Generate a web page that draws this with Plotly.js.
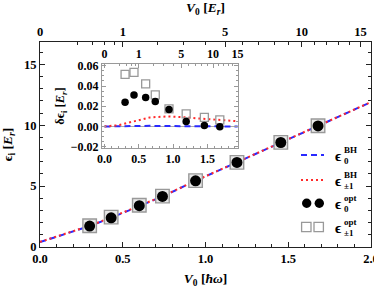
<!DOCTYPE html>
<html><head><meta charset="utf-8">
<script src="https://cdn.plot.ly/plotly-3.0.1.min.js"></script>
<style>html,body{margin:0;padding:0;background:#fff}</style>
</head><body><div id="chart" style="width:374px;height:288px"></div>
<script>
// ---- data ----
const V0_hw      = [0.30, 0.43, 0.60, 0.74, 0.94, 1.19, 1.455, 1.68];
const eps0Opt    = [1.72, 2.40, 3.39, 4.15, 5.43, 6.94, 8.58, 9.94];
const epsPm1Opt  = [1.75, 2.45, 3.43, 4.18, 5.45, 6.95, 8.59, 9.95];
const bhX        = [0, 0.30, 0.43, 0.60, 0.74, 0.94, 1.19, 1.455, 1.68, 2.0];
const eps0BH     = [0.40, 1.72, 2.40, 3.39, 4.15, 5.43, 6.94, 8.58, 9.94, 11.9];
const epsPm1BH   = [0.42, 1.74, 2.43, 3.42, 4.17, 5.44, 6.95, 8.59, 9.95, 11.9];
const dEps0Opt   = [0.0240, 0.0312, 0.0286, 0.0246, 0.0167, 0.0049, 0.0010, -0.0003];
const dEpsPm1Opt = [0.0516, 0.0536, 0.0421, 0.0312, 0.0174, 0.0125, 0.0089, 0.0066];
const dX         = [0, 0.20, 0.42, 0.66, 0.90, 1.14, 1.38, 1.63, 1.94];
const dEps0BH    = [0, 0.0003, 0.0006, 0.0006, 0.0004, 0.0002, 0.0001, 0, 0];
const dEpsPm1BH  = [0, 0.0012, 0.0049, 0.0089, 0.0099, 0.0093, 0.0079, 0.0066, 0.0052];
const topTickLabels = [0, 1, 5, 10, 15];          // V0 in E_r
const topMinorEr    = [0.2, 0.4, 0.6, 0.8, 2, 3, 4, 6, 7, 8, 9, 11, 12, 13, 14];

// V0 [ħω] = sqrt(V0/E_r)/2
const toHw = v => Math.sqrt(v) / 2;

const BLUE = '#2a2aff', RED = '#ff2a2a', GRAY = '#999999';
const FAM = 'Liberation Serif';
const tf = (s) => ({family: FAM, size: s, color: '#000', weight: 'bold'});
const clear = {color: 'rgba(0,0,0,0)', width: 0};

const traces = [
  {x: bhX, y: eps0BH, xaxis: 'x', yaxis: 'y', mode: 'lines', name: 'ϵ0 BH',
   line: {color: BLUE, width: 2, dash: '6px,4px'}, showlegend: false},
  {x: bhX, y: epsPm1BH, xaxis: 'x', yaxis: 'y', mode: 'lines', name: 'ϵ±1 BH',
   line: {color: RED, width: 2, dash: '2px,3px'}, showlegend: false},
  {x: V0_hw, y: epsPm1Opt, xaxis: 'x', yaxis: 'y', mode: 'markers', name: 'ϵ±1 opt',
   marker: {symbol: 'square', size: 13.5, color: '#e8e8e8', line: {color: GRAY, width: 1.4}}, showlegend: false},
  {x: V0_hw, y: eps0Opt, xaxis: 'x', yaxis: 'y', mode: 'markers', name: 'ϵ0 opt',
   marker: {symbol: 'circle', size: 11, color: '#000'}, showlegend: false},
  // carrier for top axis (V0 in E_r)
  {x: bhX, y: eps0BH, xaxis: 'x2', yaxis: 'y', mode: 'lines', line: clear, hoverinfo: 'skip', showlegend: false},
  // inset
  {x: dX, y: dEps0BH, xaxis: 'x3', yaxis: 'y3', mode: 'lines', name: 'δϵ0 BH',
   line: {color: BLUE, width: 2, dash: '6px,4px'}, showlegend: false},
  {x: dX, y: dEpsPm1BH, xaxis: 'x3', yaxis: 'y3', mode: 'lines', name: 'δϵ±1 BH',
   line: {color: RED, width: 2, dash: '2px,3px'}, showlegend: false},
  {x: V0_hw, y: dEpsPm1Opt, xaxis: 'x3', yaxis: 'y3', mode: 'markers', name: 'δϵ±1 opt',
   marker: {symbol: 'square-open', size: 8, color: GRAY, line: {color: GRAY, width: 1.3}}, showlegend: false},
  {x: V0_hw, y: dEps0Opt, xaxis: 'x3', yaxis: 'y3', mode: 'markers', name: 'δϵ0 opt',
   marker: {symbol: 'circle', size: 7.5, color: '#000'}, showlegend: false},
  {x: dX, y: dEps0BH, xaxis: 'x4', yaxis: 'y3', mode: 'lines', line: clear, hoverinfo: 'skip', showlegend: false}
];

// pixel -> paper helpers for legend decoration
const L = 40, R = 3, T = 42, B = 41, W = 374, H = 288;
const pw = W - L - R, ph = H - T - B;
const PX = p => (p - L) / pw;
const PY = p => (H - B - p) / ph;

const shapes = [];
const annotations = [];
function legendText(xc, yc, sup, sub) {
  annotations.push({xref: 'paper', yref: 'paper', x: PX(xc), y: PY(yc), text: 'ϵ', showarrow: false,
    xanchor: 'center', yanchor: 'middle', font: tf(15)});
  annotations.push({xref: 'paper', yref: 'paper', x: PX(xc + 4), y: PY(yc - 6), text: sup, showarrow: false,
    xanchor: 'left', yanchor: 'middle', font: tf(9)});
  annotations.push({xref: 'paper', yref: 'paper', x: PX(xc + 4), y: PY(yc + 5), text: sub, showarrow: false,
    xanchor: 'left', yanchor: 'middle', font: tf(9)});
}
shapes.push({type: 'line', xref: 'paper', yref: 'paper', x0: PX(301), x1: PX(324), y0: PY(155), y1: PY(155),
  line: {color: BLUE, width: 2, dash: '6px,4px'}});
shapes.push({type: 'line', xref: 'paper', yref: 'paper', x0: PX(301), x1: PX(324), y0: PY(180), y1: PY(180),
  line: {color: RED, width: 2, dash: '2px,3px'}});
[306.7, 319.3].forEach(cx => shapes.push({type: 'circle', xref: 'paper', yref: 'paper',
  x0: PX(cx - 4.7), x1: PX(cx + 4.7), y0: PY(203.3 + 4.7), y1: PY(203.3 - 4.7),
  fillcolor: '#000', line: {width: 0}}));
[306.3, 318.7].forEach(cx => shapes.push({type: 'rect', xref: 'paper', yref: 'paper',
  x0: PX(cx - 4.7), x1: PX(cx + 4.7), y0: PY(227 + 4.7), y1: PY(227 - 4.7),
  fillcolor: 'rgba(0,0,0,0)', line: {color: GRAY, width: 1.3}}));
legendText(338, 156, 'BH', '0');
legendText(338, 181, 'BH', '±1');
legendText(338, 204, 'opt', '0');
legendText(338, 228, 'opt', '±1');

const axBase = {showgrid: false, zeroline: false, showline: true, linecolor: '#222', linewidth: 1,
  ticks: 'inside', ticklen: 5, tickcolor: '#222', tickwidth: 1, tickfont: tf(12.5),
  ticklabeloverflow: 'allow'};
const inBase = {showgrid: false, showline: true, linecolor: '#999', linewidth: 1,
  ticks: 'inside', ticklen: 4, tickcolor: '#999', tickwidth: 1, tickfont: tf(12),
  ticklabeloverflow: 'allow'};

const inX = [-0.036, 1.945];

const layout = {
  width: W, height: H, margin: {l: L, r: R, t: T, b: B},
  paper_bgcolor: '#fff', plot_bgcolor: '#fff', showlegend: false,
  xaxis: Object.assign({}, axBase, {domain: [0, 1], anchor: 'y', range: [0, 2.0], tickvals: [0, 0.5, 1, 1.5, 2],
    tickformat: '.1f', mirror: true,
    minor: {dtick: 0.1, ticklen: 3, tickcolor: '#222', ticks: 'inside'},
    title: {text: '<i>V</i><sub>0</sub> [<i>ħω</i>]', font: tf(13.5), standoff: 12}}),
  xaxis2: Object.assign({}, axBase, {overlaying: 'x', side: 'top', anchor: 'y', range: [0, 2.0],
    tickmode: 'array', tickvals: topTickLabels.map(toHw), ticktext: topTickLabels.map(String),
    minor: {tickmode: 'array', tickvals: topMinorEr.map(toHw), ticklen: 3, tickcolor: '#222', ticks: 'inside'},
    title: {text: '<i>V</i><sub>0</sub> [<i>E<sub>r</sub></i>]', font: tf(13.5), standoff: 10}}),
  yaxis: Object.assign({}, axBase, {domain: [0, 1], anchor: 'x', range: [0, 16.83], tickvals: [0, 5, 10, 15],
    mirror: 'ticks', minor: {dtick: 1, ticklen: 3, tickcolor: '#222', ticks: 'inside'},
    title: {text: 'ϵ<sub>i</sub> [<i>E<sub>r</sub></i>]', font: tf(13.5), standoff: 8}}),
  xaxis3: Object.assign({}, inBase, {domain: [PX(102), PX(238)], anchor: 'y3', range: inX,
    tickvals: [0, 0.5, 1, 1.5], tickformat: '.1f', mirror: true, zeroline: false,
    minor: {dtick: 0.1, ticklen: 2, tickcolor: '#999', ticks: 'inside'}}),
  xaxis4: Object.assign({}, inBase, {overlaying: 'x3', side: 'top', anchor: 'y3', range: inX,
    tickmode: 'array', tickvals: topTickLabels.map(toHw), ticktext: topTickLabels.map(String), zeroline: false,
    minor: {tickmode: 'array', tickvals: topMinorEr.map(toHw), ticklen: 2, tickcolor: '#999', ticks: 'inside'}}),
  yaxis3: Object.assign({}, inBase, {domain: [PY(148), PY(64)], anchor: 'x3', range: [-0.0213, 0.0618],
    tickvals: [-0.02, 0, 0.02, 0.04, 0.06], tickformat: '.2f', mirror: 'ticks',
    zeroline: true, zerolinecolor: '#aaa', zerolinewidth: 1,
    minor: {dtick: 0.005, ticklen: 2, tickcolor: '#999', ticks: 'inside'},
    title: {text: 'δϵ<sub>i</sub> [<i>E<sub>r</sub></i>]', font: tf(12.5), standoff: 3}}),
  shapes: shapes,
  annotations: annotations
};

Plotly.newPlot('chart', traces, layout, {staticPlot: true, displayModeBar: false});
</script></body></html>
